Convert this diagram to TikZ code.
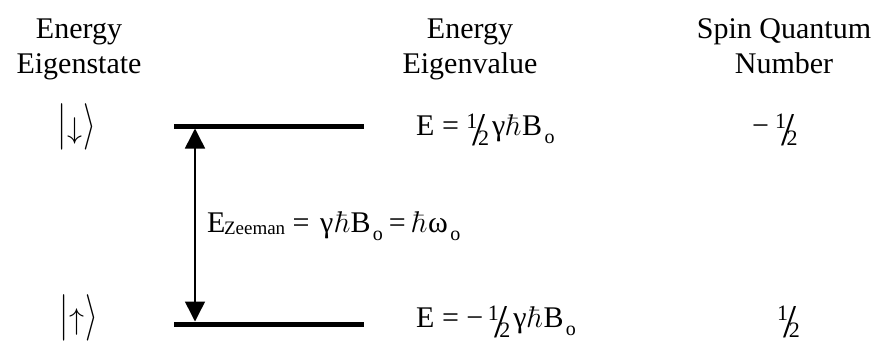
\RequirePackage{fix-cm}
\documentclass[tikz,border=0pt]{standalone}
\usepackage[no-math]{fontspec}
\usepackage{graphicx}
\setmainfont{Liberation Serif}
\usetikzlibrary{arrows.meta}
\newcommand{\hlf}{\raisebox{7pt}{\fontsize{22}{22}\selectfont 1}\kern-4.5pt\raisebox{-10.5pt}{\fontsize{47}{47}\selectfont /}\kern-8pt\raisebox{-10.5pt}{\fontsize{22}{22}\selectfont 2}}
\newcommand{\subo}{\raisebox{-8pt}{\fontsize{20}{20}\selectfont o}}
\newcommand{\hb}{$\hbar$}
\newcommand{\ket}[1]{\scalebox{1.1}[1.55]{$|$}\kern1pt$#1$\kern1pt\scalebox{1.1}[1.55]{$\rangle$}}
\begin{document}
\begin{tikzpicture}[x=1pt,y=-1pt,
  txt/.style={inner sep=0pt,font=\fontsize{30}{37}\selectfont},
  level/.style={line width=5pt},
  gap/.style={line width=1.5pt,{Triangle[width=20pt,length=20pt]}-{Triangle[width=20pt,length=20pt]}}]
\useasboundingbox (0,0) rectangle (884,343);
% headers
\node[txt,anchor=base] (h1a) at (79,38) {Energy};
\node[txt,anchor=base] (h1b) at (79,73) {Eigenstate};
\node[txt,anchor=base] (h2a) at (470,38) {Energy};
\node[txt,anchor=base] (h2b) at (470,73) {Eigenvalue};
\node[txt,anchor=base] (h3a) at (784,38) {Spin Quantum};
\node[txt,anchor=base] (h3b) at (784,73) {Number};
% kets
\node[txt] (kd) at (77,127) {\ket{\downarrow}};
\node[txt] (ku) at (79,318) {\ket{\uparrow}};
% levels
\coordinate (tl) at (174,126);
\coordinate (tr) at (364,126);
\coordinate (bl) at (174,324);
\coordinate (br) at (364,324);
\draw[level] (tl) -- (tr);
\draw[level] (bl) -- (br);
\coordinate (at) at (195,128.5);
\coordinate (ab) at (195,321.5);
\draw[gap] (at) -- (ab);
% equations
\node[txt,anchor=base west] (e1) at (416,135) {E\kern0.25em=\kern0.25em\hlf\kern0.1em γ\kern0.02em\hb\kern0.02em B\kern0.08em\subo};
\node[txt,anchor=base west] (ez) at (207,232) {E\kern-0.05em\raisebox{-0.08em}{\fontsize{19}{19}\selectfont Zeeman}\kern0.25em=\kern0.35em γ\kern0.05em\hb B\kern0.08em\subo\kern0.2em=\kern0.2em\hb\kern0.02em ω\kern0.08em\subo};
\node[txt,anchor=base west] (e2) at (416,327) {E\kern0.25em=\kern0.25em−\kern0.15em\hlf\kern0.1em γ\kern0.02em\hb\kern0.02em B\kern0.08em\subo};
% spin numbers
\node[txt,anchor=base west] (s1) at (752,135) {−\kern0.2em\hlf};
\node[txt,anchor=base west] (s2) at (777,327) {\hlf};
\end{tikzpicture}
\end{document}
